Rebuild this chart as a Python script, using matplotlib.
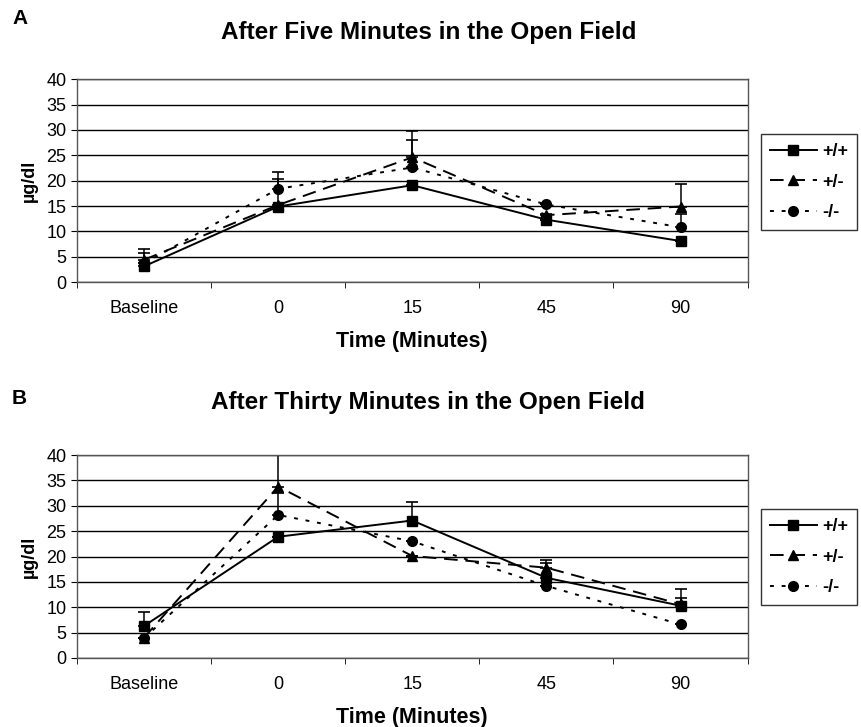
import matplotlib
matplotlib.use("Agg")
import matplotlib.pyplot as plt
from matplotlib.lines import Line2D
import numpy as np

plt.rcParams['font.family'] = ['Liberation Sans Narrow', 'Liberation Sans', 'DejaVu Sans']

# Categories on the x axis
categories = ["Baseline", "0", "15", "45", "90"]
genotypes = ["+/+", "+/-", "-/-"]

# Panel A: after five minutes (ug/dl)
a_wt = [3.1, 14.9, 19.1, 12.3, 8.1]
a_het = [4.4, 15.2, 24.6, 13.2, 14.9]
a_ko = [3.7, 18.4, 22.6, 15.3, 10.8]
a_wt_err = [2.6, 0, 0, 0, 0]
a_het_err = [2.2, 5.1, 5.2, 0.3, 4.4]
a_ko_err = [0, 3.3, 5.5, 0, 2.6]

# Panel B: after thirty minutes (ug/dl)
b_wt = [6.3, 23.9, 27.1, 15.8, 10.3]
b_het = [4.0, 33.8, 20.1, 17.8, 10.6]
b_ko = [3.9, 28.2, 23.0, 14.2, 6.6]
b_wt_err = [2.8, 0, 3.6, 3.5, 3.2]
b_het_err = [0, 6.4, 0, 1.0, 1.3]
b_ko_err = [0, 4.3, 0, 0, 0]

styles = [('-', 's'), ((0, (7, 4)), '^'), ((0, (2, 4)), 'o')]


# draws one panel: three genotype lines with upper-only error bars
def draw_panel(ax, series, errs):
    x = np.arange(len(categories))
    for vals, err, (ls, mk), lab in zip(series, errs, styles, genotypes):
        ax.errorbar(x, vals, yerr=[np.zeros(len(err)), err], color='black',
                    ecolor='black', elinewidth=1.1, capsize=4, capthick=1.2,
                    linestyle=ls, linewidth=1.4, marker=mk, markersize=7,
                    label=lab)
    ax.set_xlim(-0.5, len(categories) - 0.5)
    ax.set_ylim(0, 40)
    ax.set_yticks(range(0, 41, 5))
    ax.set_xticks(x)
    ax.set_xticklabels(categories, fontsize=13)
    ax.set_xticks(np.arange(-0.5, len(categories)), minor=True)
    ax.tick_params(axis='x', which='major', length=0, pad=13)
    ax.tick_params(axis='x', which='minor', length=4)
    ax.tick_params(axis='y', labelsize=13, length=4)
    ax.grid(axis='y', color='black', linewidth=1.0)
    ax.set_axisbelow(True)
    for sp in ax.spines.values():
        sp.set_color('#555555')
        sp.set_linewidth(1.0)
    ax.set_ylabel("µg/dl", fontsize=13, fontweight='bold',
                  family=['Liberation Sans', 'DejaVu Sans'], labelpad=6)
    ax.set_xlabel("Time (Minutes)", fontsize=15.5, fontweight='bold', labelpad=10)


fig = plt.figure(figsize=(8.62, 7.27), dpi=100)
ax_a = fig.add_axes([0.0893, 0.612, 0.778, 0.279])
ax_b = fig.add_axes([0.0893, 0.095, 0.778, 0.279])

draw_panel(ax_a, [a_wt, a_het, a_ko], [a_wt_err, a_het_err, a_ko_err])
draw_panel(ax_b, [b_wt, b_het, b_ko], [b_wt_err, b_het_err, b_ko_err])

# legend handles without the error bar glyphs
handles = [Line2D([], [], color='black', linestyle=ls, linewidth=1.4,
                  marker=mk, markersize=7) for ls, mk in styles]

for top in [1 - 134 / 727, 1 - 509 / 727]:
    leg = fig.legend(handles, genotypes, loc='upper left',
                     bbox_to_anchor=(761 / 862, top), borderaxespad=0,
                     prop={'weight': 'bold', 'size': 13},
                     frameon=True, fancybox=False, edgecolor='black',
                     handlelength=2.6, handletextpad=0.3, borderpad=0.5,
                     labelspacing=0.75)
    leg.get_frame().set_linewidth(1.0)

fig.text(12 / 862, 1 - 18 / 727, "A", fontsize=15, fontweight='bold', va='center')
fig.text(12 / 862, 1 - 398 / 727, "B", fontsize=15, fontweight='bold', va='center')
fig.text(0.497, 1 - 33 / 727, "After Five Minutes in the Open Field",
         fontsize=17.5, fontweight='bold', ha='center', va='center')
fig.text(0.497, 1 - 402 / 727, "After Thirty Minutes in the Open Field",
         fontsize=17.5, fontweight='bold', ha='center', va='center')

fig.savefig("out.png", dpi=100)
